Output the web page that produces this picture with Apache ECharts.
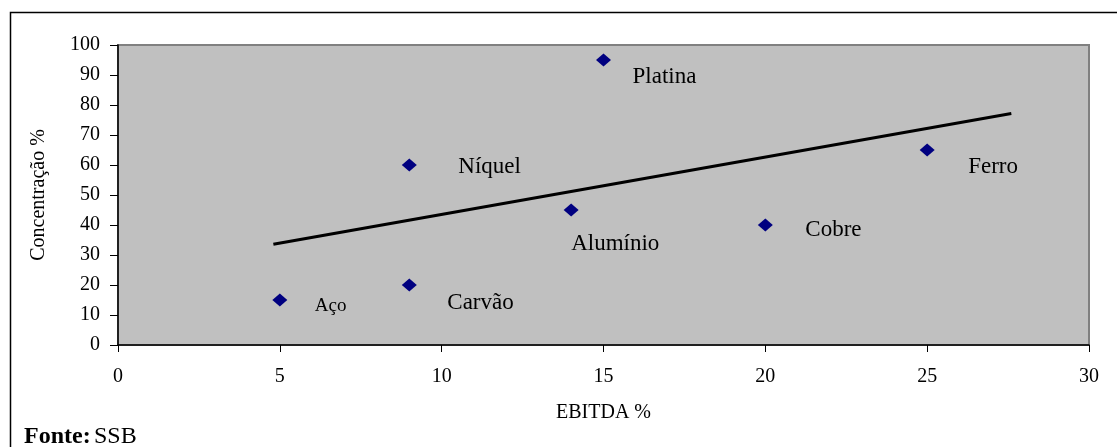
<!DOCTYPE html>
<html>
<head>
<meta charset="utf-8">
<script src="https://cdn.jsdelivr.net/npm/echarts@6/dist/echarts.min.js"></script>
<style>
html,body{margin:0;padding:0;background:#fff;}
#chart{width:1117px;height:447px;}
</style>
</head>
<body>
<div id="chart"></div>
<script>
// Data
var names = ['Platina', 'Níquel', 'Alumínio', 'Cobre', 'Ferro', 'Aço', 'Carvão'];
var ebitda = [15, 9, 14, 20, 25, 5, 9];
var concentracao = [95, 60, 45, 40, 65, 15, 20];
var trendX = [4.8, 27.6];
var trendY = [33.6, 77.2];
var xTicks = [0, 5, 10, 15, 20, 25, 30];
var yTicks = [0, 10, 20, 30, 40, 50, 60, 70, 80, 90, 100];
var xTitle = 'EBITDA %';
var yTitle = 'Concentração %';
var sourceLabel = 'Fonte:';
var sourceText = 'SSB';

// Layout (label placement relative to each point)
var labelLayout = {
  'Platina': {off: [29, 17], size: 23},
  'Níquel': {off: [49, 2], size: 23},
  'Alumínio': {off: [0, 34], size: 23},
  'Cobre': {off: [40, 5], size: 23},
  'Ferro': {off: [41, 17], size: 23},
  'Aço': {off: [35, 6], size: 19},
  'Carvão': {off: [38, 18], size: 23}
};

var FONT = '"Liberation Serif", "Times New Roman", serif';

var pts = names.map(function (n, i) {
  var l = labelLayout[n];
  return {
    name: n,
    value: [ebitda[i], concentracao[i]],
    label: {
      show: true,
      position: 'inside',
      align: 'left',
      verticalAlign: 'middle',
      offset: l.off,
      formatter: n,
      fontFamily: FONT,
      fontSize: l.size,
      color: '#000',
      opacity: 1
    }
  };
});

var trend = trendX.map(function (x, i) { return [x, trendY[i]]; });

var chart = echarts.init(document.getElementById('chart'), null, {renderer: 'canvas'});
chart.setOption({
  animation: false,
  backgroundColor: '#fff',
  grid: {
    left: 118, top: 45, right: 28, bottom: 102,
    show: true,
    backgroundColor: '#c0c0c0',
    borderColor: '#808080',
    borderWidth: 2
  },
  xAxis: {
    type: 'value',
    min: xTicks[0], max: xTicks[xTicks.length - 1], interval: 5,
    name: xTitle,
    nameLocation: 'middle',
    nameGap: 58,
    nameTextStyle: {fontFamily: FONT, fontSize: 20, color: '#000'},
    axisLine: {show: true, onZero: false, lineStyle: {color: '#000', width: 1.5}},
    axisTick: {show: true, length: 7, lineStyle: {color: '#000', width: 1}},
    axisLabel: {fontFamily: FONT, fontSize: 20, color: '#000', margin: 22},
    splitLine: {show: false}
  },
  yAxis: {
    type: 'value',
    min: yTicks[0], max: yTicks[yTicks.length - 1], interval: 10,
    name: yTitle,
    nameLocation: 'middle',
    nameGap: 69,
    nameTextStyle: {fontFamily: FONT, fontSize: 20, color: '#000'},
    axisLine: {show: true, onZero: false, lineStyle: {color: '#000', width: 1.5}},
    axisTick: {show: true, length: 8, lineStyle: {color: '#000', width: 1}},
    axisLabel: {fontFamily: FONT, fontSize: 20, color: '#000', margin: 18},
    splitLine: {show: false}
  },
  series: [
    {
      type: 'line',
      data: trend,
      symbol: 'none',
      lineStyle: {color: '#000', width: 3},
      silent: true,
      z: 2
    },
    {
      type: 'scatter',
      data: pts,
      symbol: 'diamond',
      symbolSize: [15, 13],
      itemStyle: {color: '#000080', opacity: 1},
      z: 3
    }
  ],
  graphic: [
    {
      type: 'polyline',
      shape: {points: [[10.5, 447], [10.5, 12.5], [1117, 12.5]]},
      style: {stroke: '#000', lineWidth: 1.5, fill: null}
    },
    {
      type: 'text',
      left: 24,
      top: 425,
      style: {
        text: '{b|' + sourceLabel + '} {n|' + sourceText + '}',
        rich: {
          b: {fontFamily: FONT, fontSize: 24, fontWeight: 'bold', fill: '#000'},
          n: {fontFamily: FONT, fontSize: 24, fill: '#000'}
        }
      }
    }
  ]
});
</script>
</body>
</html>
